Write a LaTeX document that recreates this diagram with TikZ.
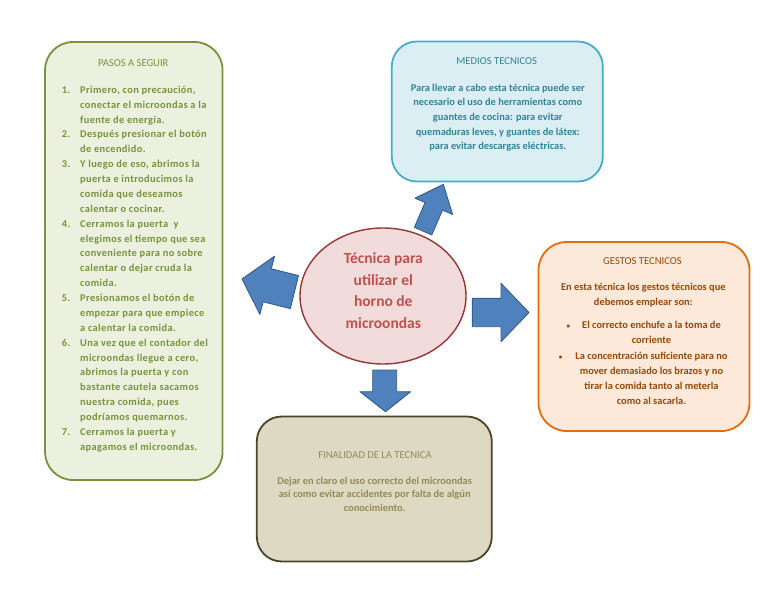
\documentclass[tikz,border=0pt]{standalone}
\usepackage{fontspec}
\setmainfont{Carlito}
\usetikzlibrary{shapes.geometric}
\definecolor{grnfill}{HTML}{EBF1DE}
\definecolor{grnline}{HTML}{77933C}
\definecolor{grntext}{HTML}{77933C}
\definecolor{bluefill}{HTML}{DAEEF3}
\definecolor{blueline}{HTML}{4BACC6}
\definecolor{bluetext}{HTML}{31849B}
\definecolor{orfill}{HTML}{FDE9D9}
\definecolor{orline}{HTML}{E46C0A}
\definecolor{ortext}{HTML}{984807}
\definecolor{tanfill}{HTML}{DDD9C3}
\definecolor{tanline}{HTML}{4A452A}
\definecolor{tantext}{HTML}{948A54}
\definecolor{elfill}{HTML}{F2DCDB}
\definecolor{elline}{HTML}{953735}
\definecolor{eltext}{HTML}{C0504D}
\definecolor{arrfill}{HTML}{4F81BD}
\definecolor{arrline}{HTML}{385D8A}
\newfontfamily\spacedfont[LetterSpace=3.6]{Carlito}
\newcommand\titfont{\fontsize{10.6}{12}\selectfont}
\newcommand\bodyfontA[1]{\fontsize{10.4}{#1}\selectfont\bfseries}
\newcommand\bodyfontB[1]{\spacedfont\fontsize{10.4}{#1}\selectfont\bfseries}
\begin{document}
\begin{tikzpicture}[x=1pt,y=-1pt,
  box/.style={draw, line width=1.8pt, inner sep=0pt},
  blockarrow/.style={fill=arrfill, draw=arrline, line width=0.9pt, line join=round},
  txt/.style={inner sep=0pt, anchor=base}]
\fill[white] (0,0) rectangle (768,594);
\useasboundingbox (0,0) rectangle (768,594);

% boxes
\node[box, draw=grnline, fill=grnfill, rounded corners=28pt, minimum width=177.5pt, minimum height=438pt] (pasos) at (133.8,261) {};
\node[box, draw=blueline, fill=bluefill, rounded corners=25pt, minimum width=211pt, minimum height=140pt] (medios) at (497.3,111.5) {};
\node[box, draw=orline, fill=orfill, rounded corners=28pt, minimum width=211pt, minimum height=189pt] (gestos) at (644,336.5) {};
\node[box, draw=tanline, fill=tanfill, rounded corners=25pt, minimum width=235pt, minimum height=145pt] (final) at (374.3,489) {};

% arrows
\draw[blockarrow] (242,279) -- (274.5,256.2) -- (271.3,268.8) -- (298.5,275.6) -- (290.3,308.6) -- (263.1,301.8) -- (259.9,314.4) -- cycle;
\draw[blockarrow] (443.3,184.3) -- (452.6,214.4) -- (442.5,210.1) -- (431.8,234.9) -- (414.4,227.3) -- (425.1,202.5) -- (415.0,198.2) -- cycle;
\draw[blockarrow] (472.3,298.3) -- (501,298.3) -- (501,283.3) -- (529,312.5) -- (501,341.7) -- (501,326.7) -- (472.3,326.7) -- cycle;
\draw[blockarrow] (372.7,370) -- (396.7,370) -- (396.7,391.7) -- (410.7,391.7) -- (385.5,411.7) -- (360,391.7) -- (372.7,391.7) -- cycle;

% central ellipse
\node[ellipse, draw=elline, fill=elfill, line width=1.4pt, minimum width=166pt, minimum height=136pt] (centre) at (383,296) {};
\node[txt, text=eltext] (centretext) at (383.3,263.3) {\fontsize{15.5}{21.7}\selectfont\bfseries
  \begin{tabular}[t]{@{}c@{}}Técnica para\\ utilizar el\\ horno de\\ microondas\end{tabular}};

% PASOS
\node[txt, text=grntext] (pasostitle) at (133.3,66.5) {\titfont PASOS A SEGUIR};
\node[txt, anchor=base west, text=grntext] (pasoslist) at (61.7,93.3) {\bodyfontB{14.875}%
  \begin{tabular}[t]{@{}p{18.3pt}@{}l@{}}
  1. & Primero, con precaución,\\
     & conectar el microondas a la\\
     & fuente de energía.\\
  2. & Después presionar el botón\\
     & de encendido.\\
  3. & Y luego de eso, abrimos la\\
     & puerta e introducimos la\\
     & comida que deseamos\\
     & calentar o cocinar.\\
  4. & Cerramos la puerta\ \ y\\
     & elegimos el tiempo que sea\\
     & conveniente para no sobre\\
     & calentar o dejar cruda la\\
     & comida.\\
  5. & Presionamos el botón de\\
     & empezar para que empiece\\
     & a calentar la comida.\\
  6. & Una vez que el contador del\\
     & microondas llegue a cero,\\
     & abrimos la puerta y con\\
     & bastante cautela sacamos\\
     & nuestra comida, pues\\
     & podríamos quemarnos.\\
  7. & Cerramos la puerta y\\
     & apagamos el microondas.
  \end{tabular}};

% MEDIOS
\node[txt, text=bluetext] (mediostitle) at (496.7,64.7) {\titfont MEDIOS TECNICOS};
\node[txt, text=bluetext] (mediostext) at (497.8,91.3) {\bodyfontA{14.6}%
  \begin{tabular}[t]{@{}c@{}}
  Para llevar a cabo esta técnica puede ser\\
  necesario el uso de herramientas como\\
  guantes de cocina: para evitar\\
  quemaduras leves, y guantes de látex:\\
  para evitar descargas eléctricas.
  \end{tabular}};

% GESTOS
\node[txt, text=ortext] (gestostitle) at (642.5,264.7) {\titfont GESTOS TECNICOS};
\node[txt, text=ortext] (gestosintro) at (643.3,290.5) {\bodyfontA{14.5}%
  \begin{tabular}[t]{@{}c@{}}
  En esta técnica los gestos técnicos que\\
  debemos emplear son:
  \end{tabular}};
\node[txt, text=ortext] (gestoslist) at (651.5,328.7) {\bodyfontA{15.2}%
  \begin{tabular}[t]{@{}c@{}}
  \llap{\fontsize{7}{7}\selectfont•\hspace{12pt}}El correcto enchufe a la toma de\\
  corriente\\
  \llap{\fontsize{7}{7}\selectfont•\hspace{13pt}}La concentración suficiente para no\\
  mover demasiado los brazos y no\\
  tirar la comida tanto al meterla\\
  como al sacarla.
  \end{tabular}};

% FINALIDAD
\node[txt, text=tantext] (finaltitle) at (375,458.3) {\titfont FINALIDAD DE LA TECNICA};
\node[txt, text=tantext] (finaltext) at (374.7,484) {\bodyfontA{13.9}%
  \begin{tabular}[t]{@{}c@{}}
  Dejar en claro el uso correcto del microondas\\
  así como evitar accidentes por falta de algún\\
  conocimiento.
  \end{tabular}};
\end{tikzpicture}
\end{document}
